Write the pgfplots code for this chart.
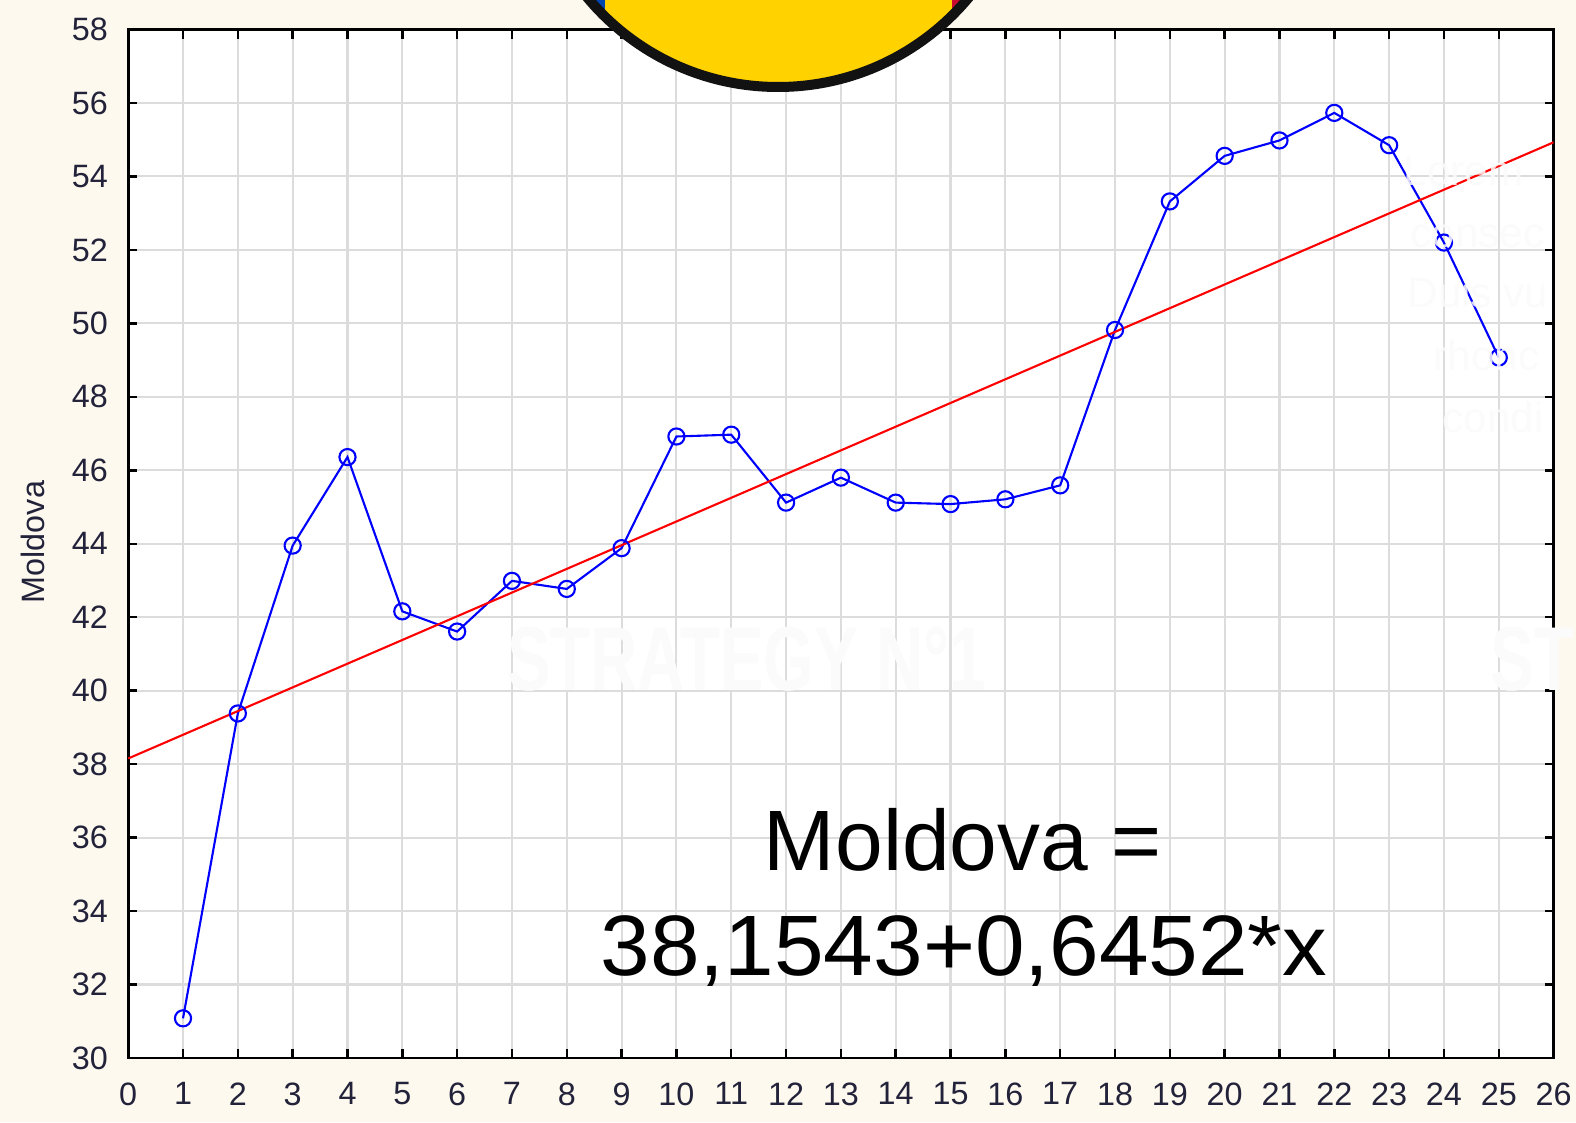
\documentclass[border=0pt]{standalone}
\usepackage{fontspec}
\setmainfont{Liberation Sans}
\usepackage{pgfplots}
\pgfplotsset{compat=1.18}
\definecolor{cream}{HTML}{FEF9EE}
\definecolor{gridgray}{HTML}{DCDCDC}
\definecolor{ticktext}{HTML}{22223A}
\definecolor{ghost}{HTML}{FCFBFB}
\definecolor{flagblue}{HTML}{0046AE}
\definecolor{flagyellow}{HTML}{FFD200}
\definecolor{flagred}{HTML}{CC092F}
\begin{document}
\begin{tikzpicture}
\useasboundingbox (0,0) rectangle (15.76,11.22);
\clip (0,0) rectangle (15.76,11.22);
\fill[cream] (0,0) rectangle (15.76,11.22);
\begin{axis}[
  at={(1.282cm,0.64cm)}, anchor=south west,
  scale only axis, width=14.254cm, height=10.285cm,
  xmin=0, xmax=26, ymin=30, ymax=58,
  xtick={0,1,...,26}, ytick={30,32,...,58},
  tick pos=both, tick align=inside,
  grid=major,
  major grid style={draw=gridgray, line width=0.6pt},
  axis line style={line width=0.8pt, black},
  major tick style={black, line width=0.7pt},
  major tick length=0.09cm,
  axis background/.style={fill=white},
  /pgf/number format/assume math mode=true,
  tick label style={font=\fontsize{9.2}{9.2}\selectfont, text=ticktext},
  xticklabel style={yshift=-0.12cm},
  yticklabel style={xshift=-0.08cm},
  ylabel={Moldova},
  ylabel style={at={(axis description cs:-0.0668,0.5017)}, anchor=center, font=\fontsize{9.2}{9.2}\selectfont, text=ticktext},
]
\addplot[blue, line width=0.6pt, mark=o, mark size=2.3pt, mark options={line width=0.6pt}] coordinates {
(1,31.08) (2,39.38) (3,43.95) (4,46.36) (5,42.16) (6,41.61) (7,42.99) (8,42.77)
(9,43.88) (10,46.92) (11,46.97) (12,45.12) (13,45.80) (14,45.12) (15,45.08)
(16,45.21) (17,45.59) (18,49.82) (19,53.32) (20,54.56) (21,54.98) (22,55.73)
(23,54.85) (24,52.20) (25,49.07)
};
\addplot[red, line width=0.6pt] coordinates {(0,38.1543) (26,54.9295)};
\end{axis}
% ghost texts
\node[text=ghost, anchor=center, font=\bfseries\fontsize{25.8}{25.8}\selectfont] at (7.465,4.63) {\scalebox{0.72}[1]{STRATEGY N°1}};
\node[text=ghost, anchor=west, inner sep=0pt, font=\bfseries\fontsize{25.8}{25.8}\selectfont] at (14.9,4.63) {\scalebox{0.72}[1]{ST}};
\begin{scope}[text=ghost, opacity=0.85, font=\fontsize{12}{12}\selectfont, inner sep=0pt]
\node[anchor=base west] at (14.03,9.37) {Lorem};
\node[anchor=base west] at (14.10,8.74) {consec};
\node[anchor=base west] at (14.07,8.14) {Duis vu};
\node[anchor=base west] at (14.33,7.52) {rhonc};
\node[anchor=base west] at (14.42,6.89) {condi};
\end{scope}
% equation annotation
\node[anchor=base, inner sep=0pt, font=\fontsize{24.4}{24.4}\selectfont] at (9.63,2.52) {Moldova =};
\node[anchor=base, inner sep=0pt, font=\fontsize{24.4}{24.4}\selectfont] at (9.64,1.47) {\scalebox{1.04}[1]{38,1543+0,6452*x}};
% flag circle
\begin{scope}
\clip (7.78,12.83) circle (2.48);
\fill[flagblue] (5,10) rectangle (6.05,15);
\fill[flagyellow] (6.05,10) rectangle (9.52,15);
\fill[flagred] (9.52,10) rectangle (11,15);
\end{scope}
\draw[black!93, line width=0.1cm] (7.78,12.83) circle (2.48);
\end{tikzpicture}
\end{document}
